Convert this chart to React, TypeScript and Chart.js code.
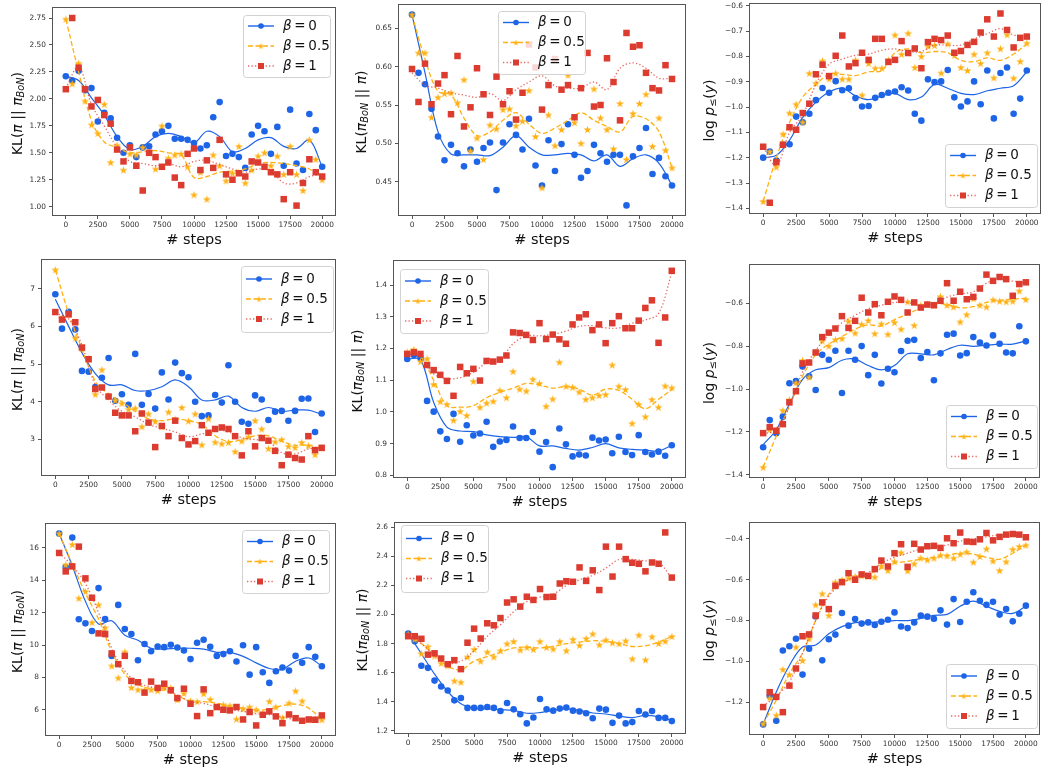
import React, { useEffect, useRef } from "react";
import { Chart, registerables } from "chart.js";
Chart.register(...registerables);

// ---------------- data ----------------
const STEPS = [0, 500, 1000, 1500, 2000, 2500, 3000, 3500, 4000, 4500, 5000, 5500, 6000, 6500, 7000, 7500, 8000, 8500, 9000, 9500, 10000, 10500, 11000, 11500, 12000, 12500, 13000, 13500, 14000, 14500, 15000, 15500, 16000, 16500, 17000, 17500, 18000, 18500, 19000, 19500, 20000];
const LINE_STEPS = [0, 1000, 2000, 3000, 4000, 5000, 6000, 7000, 8000, 9000, 10000, 11000, 12000, 13000, 14000, 15000, 16000, 17000, 18000, 19000, 20000];
const X_TICKS = [0, 2500, 5000, 7500, 10000, 12500, 15000, 17500, 20000];
const LEGEND_LABELS = ["0", "0.5", "1"];

// Panel 1: KL(pi || pi_BoN), top-left
const p1Beta0 = [2.21, 2.17, 2.26, 2.08, 2.10, 1.79, 1.87, 1.82, 1.64, 1.50, 1.57, 1.46, 1.55, 1.56, 1.67, 1.70, 1.75, 1.63, 1.63, 1.62, 1.59, 1.54, 1.57, 1.83, 1.97, 1.47, 1.49, 1.46, 1.36, 1.67, 1.75, 1.70, 1.49, 1.74, 1.38, 1.90, 1.40, 1.34, 1.86, 1.71, 1.37];
const p1Beta05 = [2.74, 2.14, 2.33, 1.98, 1.76, 1.68, 1.95, 1.41, 1.57, 1.34, 1.49, 1.48, 1.55, 1.50, 1.35, 1.75, 1.45, 1.48, 1.49, 1.37, 1.11, 1.32, 1.07, 1.48, 1.38, 1.24, 1.31, 1.56, 1.22, 1.34, 1.47, 1.50, 1.38, 1.47, 1.30, 1.56, 1.30, 1.15, 1.62, 1.44, 1.25];
const p1Beta1 = [2.09, 2.75, 2.29, 2.09, 1.93, 1.99, 1.85, 1.77, 1.53, 1.42, 1.55, 1.38, 1.15, 1.50, 1.46, 1.37, 1.41, 1.27, 1.20, 1.49, 1.54, 1.34, 1.43, 1.36, 1.62, 1.30, 1.25, 1.31, 1.28, 1.42, 1.41, 1.37, 1.32, 1.30, 1.07, 1.32, 1.01, 1.22, 1.44, 1.32, 1.28];
const p1Smooth0 = [2.21, 2.17, 2.01, 1.85, 1.65, 1.53, 1.56, 1.65, 1.68, 1.65, 1.59, 1.70, 1.65, 1.51, 1.54, 1.62, 1.64, 1.56, 1.54, 1.62, 1.37];
const p1Smooth05 = [2.74, 2.25, 1.80, 1.60, 1.55, 1.50, 1.51, 1.52, 1.50, 1.48, 1.27, 1.28, 1.32, 1.33, 1.35, 1.40, 1.41, 1.40, 1.38, 1.35, 1.26];
const p1Smooth1 = [2.10, 2.30, 1.95, 1.75, 1.55, 1.42, 1.40, 1.38, 1.40, 1.37, 1.42, 1.43, 1.39, 1.35, 1.32, 1.35, 1.33, 1.22, 1.22, 1.28, 1.30];

// Panel 2: KL(pi_BoN || pi)
const p2Beta0 = [0.668, 0.592, 0.577, 0.545, 0.509, 0.478, 0.498, 0.487, 0.470, 0.492, 0.476, 0.494, 0.501, 0.439, 0.501, 0.525, 0.511, 0.492, 0.532, 0.471, 0.445, 0.504, 0.464, 0.499, 0.525, 0.485, 0.455, 0.464, 0.498, 0.487, 0.476, 0.485, 0.485, 0.419, 0.483, 0.494, 0.520, 0.460, 0.481, 0.457, 0.445];
const p2Beta05 = [0.668, 0.618, 0.618, 0.534, 0.560, 0.565, 0.566, 0.553, 0.583, 0.490, 0.507, 0.479, 0.524, 0.519, 0.544, 0.545, 0.523, 0.529, 0.569, 0.509, 0.442, 0.537, 0.497, 0.518, 0.589, 0.527, 0.500, 0.518, 0.571, 0.533, 0.518, 0.493, 0.552, 0.479, 0.539, 0.552, 0.564, 0.496, 0.533, 0.491, 0.468];
const p2Beta1 = [0.597, 0.554, 0.604, 0.551, 0.578, 0.589, 0.538, 0.614, 0.522, 0.547, 0.598, 0.564, 0.537, 0.587, 0.551, 0.568, 0.531, 0.566, 0.629, 0.599, 0.544, 0.576, 0.610, 0.570, 0.576, 0.534, 0.572, 0.618, 0.548, 0.550, 0.611, 0.580, 0.530, 0.644, 0.626, 0.628, 0.592, 0.572, 0.569, 0.602, 0.584];
const p2Smooth0 = [0.668, 0.592, 0.515, 0.486, 0.485, 0.485, 0.484, 0.495, 0.510, 0.495, 0.485, 0.485, 0.487, 0.485, 0.477, 0.485, 0.470, 0.480, 0.485, 0.474, 0.445];
const p2Smooth05 = [0.668, 0.610, 0.568, 0.563, 0.533, 0.510, 0.515, 0.530, 0.540, 0.525, 0.513, 0.520, 0.530, 0.540, 0.530, 0.522, 0.515, 0.535, 0.532, 0.515, 0.468];
const p2Smooth1 = [0.592, 0.576, 0.572, 0.566, 0.563, 0.560, 0.565, 0.556, 0.570, 0.580, 0.588, 0.575, 0.572, 0.572, 0.580, 0.570, 0.598, 0.605, 0.598, 0.585, 0.585];

// Panel 3: log p(y)
const p3Beta0 = [-1.199, -1.175, -1.210, -1.148, -1.146, -1.037, -1.059, -1.026, -0.972, -0.924, -0.943, -0.897, -0.933, -0.925, -0.964, -0.997, -0.995, -0.963, -0.952, -0.943, -0.938, -0.921, -0.934, -1.026, -1.053, -0.890, -0.901, -0.898, -0.853, -0.961, -0.997, -0.977, -0.898, -0.988, -0.855, -1.044, -0.865, -0.843, -1.026, -0.966, -0.855];
const p3Beta05 = [-1.372, -1.175, -1.236, -1.106, -1.023, -0.988, -1.059, -0.866, -0.905, -0.817, -0.888, -0.866, -0.889, -0.889, -0.814, -0.952, -0.827, -0.846, -0.846, -0.814, -0.715, -0.791, -0.708, -0.843, -0.799, -0.760, -0.756, -0.865, -0.750, -0.795, -0.843, -0.855, -0.791, -0.827, -0.785, -0.884, -0.769, -0.714, -0.885, -0.819, -0.747];
const p3Beta1 = [-1.156, -1.377, -1.217, -1.148, -1.079, -1.089, -1.023, -0.986, -0.870, -0.832, -0.877, -0.797, -0.717, -0.839, -0.826, -0.785, -0.813, -0.730, -0.730, -0.821, -0.813, -0.739, -0.786, -0.768, -0.846, -0.743, -0.730, -0.735, -0.717, -0.785, -0.778, -0.754, -0.742, -0.705, -0.653, -0.721, -0.630, -0.695, -0.764, -0.726, -0.721];
const p3Smooth0 = [-1.199, -1.19, -1.13, -1.04, -0.98, -0.94, -0.925, -0.955, -0.970, -0.955, -0.945, -0.970, -0.960, -0.910, -0.925, -0.945, -0.950, -0.935, -0.925, -0.915, -0.86];
const p3Smooth05 = [-1.372, -1.20, -1.06, -0.96, -0.91, -0.87, -0.87, -0.875, -0.86, -0.855, -0.785, -0.77, -0.785, -0.78, -0.785, -0.815, -0.82, -0.805, -0.815, -0.79, -0.75];
const p3Smooth1 = [-1.16, -1.23, -1.10, -1.03, -0.91, -0.83, -0.81, -0.795, -0.79, -0.775, -0.77, -0.78, -0.78, -0.755, -0.755, -0.755, -0.73, -0.71, -0.69, -0.715, -0.72];

// Panel 4
const p4Beta0 = [6.85, 5.94, 6.39, 5.92, 4.82, 4.80, 4.39, 4.64, 5.16, 4.03, 4.20, 3.92, 5.27, 3.92, 4.21, 3.82, 4.78, 4.06, 5.04, 4.76, 4.65, 4.00, 3.62, 3.64, 4.18, 3.98, 4.97, 4.00, 3.47, 3.42, 4.17, 4.06, 3.52, 3.74, 3.76, 3.50, 3.76, 4.08, 4.09, 3.20, 3.69];
const p4Beta05 = [7.50, 6.23, 6.33, 5.69, 5.41, 5.14, 4.20, 4.85, 4.16, 4.04, 3.96, 3.80, 3.83, 3.34, 3.68, 3.48, 3.34, 3.73, 3.54, 3.85, 3.49, 3.68, 2.86, 3.55, 2.93, 2.89, 2.92, 2.68, 2.96, 3.07, 3.50, 3.28, 2.76, 2.94, 3.00, 2.82, 2.79, 2.92, 2.84, 2.60, 2.78];
const p4Beta1 = [6.38, 6.18, 6.32, 6.11, 5.44, 5.13, 4.34, 4.38, 4.14, 3.71, 3.64, 3.64, 3.22, 3.69, 3.45, 2.80, 3.36, 3.09, 3.50, 3.04, 2.87, 2.96, 3.38, 3.18, 3.28, 3.32, 3.28, 3.09, 2.58, 3.22, 2.82, 3.04, 2.97, 2.70, 2.32, 2.60, 2.51, 2.47, 3.09, 2.72, 2.78];
const p4Smooth0 = [6.72, 6.0, 5.3, 4.75, 4.45, 4.45, 4.30, 4.30, 4.40, 4.58, 4.40, 4.05, 4.05, 4.15, 3.85, 3.75, 3.85, 3.75, 3.78, 3.78, 3.67];
const p4Smooth05 = [7.50, 6.35, 5.40, 4.55, 4.20, 4.00, 3.75, 3.55, 3.50, 3.55, 3.50, 3.40, 3.10, 2.95, 3.00, 3.10, 3.10, 2.95, 2.85, 2.85, 2.75];
const p4Smooth1 = [6.35, 6.20, 5.50, 4.45, 4.05, 3.75, 3.60, 3.40, 3.30, 3.20, 3.08, 3.15, 3.25, 3.20, 3.05, 3.00, 2.95, 2.65, 2.62, 2.75, 2.78];

// Panel 5
const p5Beta0 = [1.167, 1.180, 1.170, 1.035, 1.001, 0.939, 0.915, 0.994, 0.906, 0.958, 0.926, 0.932, 0.969, 0.890, 0.907, 0.912, 0.954, 0.918, 0.918, 0.937, 0.875, 0.905, 0.826, 0.948, 0.898, 0.860, 0.866, 0.863, 0.919, 0.910, 0.913, 0.870, 0.922, 0.874, 0.864, 0.927, 0.874, 0.866, 0.875, 0.862, 0.895];
const p5Beta05 = [1.189, 1.197, 1.159, 1.168, 1.087, 1.033, 1.024, 0.974, 1.002, 0.989, 1.097, 1.015, 1.028, 1.034, 1.068, 1.045, 1.128, 1.072, 1.066, 1.103, 1.090, 1.018, 1.041, 1.157, 1.081, 1.078, 1.063, 1.040, 1.045, 1.052, 1.055, 1.148, 1.081, 1.071, 0.964, 1.024, 0.985, 1.039, 1.015, 1.082, 1.076];
const p5Beta1 = [1.183, 1.188, 1.183, 1.148, 1.132, 1.117, 1.098, 1.051, 1.142, 1.122, 1.136, 1.099, 1.161, 1.159, 1.165, 1.178, 1.251, 1.249, 1.243, 1.227, 1.280, 1.230, 1.244, 1.229, 1.215, 1.276, 1.298, 1.308, 1.258, 1.276, 1.217, 1.280, 1.302, 1.264, 1.264, 1.288, 1.328, 1.352, 1.218, 1.298, 1.445];
const p5Smooth0 = [1.167, 1.165, 1.03, 0.952, 0.940, 0.938, 0.928, 0.922, 0.920, 0.922, 0.893, 0.893, 0.885, 0.880, 0.888, 0.900, 0.887, 0.882, 0.880, 0.877, 0.895];
const p5Smooth05 = [1.19, 1.175, 1.10, 1.02, 1.015, 1.020, 1.045, 1.062, 1.075, 1.090, 1.085, 1.075, 1.080, 1.072, 1.053, 1.072, 1.068, 1.040, 1.010, 1.040, 1.070];
const p5Smooth1 = [1.18, 1.175, 1.12, 1.105, 1.108, 1.125, 1.155, 1.165, 1.215, 1.240, 1.240, 1.245, 1.255, 1.270, 1.272, 1.265, 1.265, 1.280, 1.290, 1.310, 1.440];

// Panel 6
const p6Beta0 = [-1.272, -1.145, -1.206, -1.129, -0.973, -0.963, -0.894, -0.940, -1.004, -0.840, -0.863, -0.821, -1.018, -0.821, -0.863, -0.799, -0.935, -0.840, -0.974, -0.905, -0.921, -0.822, -0.774, -0.770, -0.855, -0.827, -0.959, -0.833, -0.746, -0.741, -0.843, -0.832, -0.757, -0.783, -0.796, -0.749, -0.788, -0.829, -0.833, -0.706, -0.777];
const p6Beta05 = [-1.366, -1.190, -1.190, -1.100, -1.050, -0.971, -0.866, -0.944, -0.830, -0.775, -0.799, -0.769, -0.764, -0.683, -0.738, -0.697, -0.680, -0.741, -0.695, -0.744, -0.689, -0.720, -0.592, -0.702, -0.608, -0.603, -0.608, -0.567, -0.608, -0.616, -0.686, -0.652, -0.577, -0.608, -0.616, -0.583, -0.589, -0.592, -0.589, -0.541, -0.581];
const p6Beta1 = [-1.206, -1.178, -1.195, -1.164, -1.062, -1.010, -0.880, -0.876, -0.829, -0.757, -0.736, -0.717, -0.659, -0.714, -0.681, -0.573, -0.642, -0.603, -0.655, -0.592, -0.567, -0.583, -0.642, -0.595, -0.619, -0.605, -0.608, -0.587, -0.505, -0.587, -0.545, -0.580, -0.569, -0.530, -0.465, -0.494, -0.476, -0.486, -0.564, -0.509, -0.501];
const p6Smooth0 = [-1.26, -1.19, -1.07, -0.955, -0.91, -0.90, -0.865, -0.86, -0.89, -0.91, -0.89, -0.835, -0.835, -0.84, -0.815, -0.795, -0.800, -0.795, -0.790, -0.790, -0.775];
const p6Smooth05 = [-1.366, -1.22, -1.08, -0.94, -0.84, -0.79, -0.755, -0.72, -0.700, -0.705, -0.675, -0.650, -0.620, -0.600, -0.605, -0.620, -0.615, -0.595, -0.585, -0.580, -0.575];
const p6Smooth1 = [-1.21, -1.19, -1.08, -0.92, -0.82, -0.745, -0.690, -0.655, -0.625, -0.608, -0.595, -0.595, -0.610, -0.600, -0.570, -0.555, -0.545, -0.505, -0.480, -0.495, -0.505];

// Panel 7
const p7Beta0 = [16.89, 14.82, 16.64, 11.59, 11.34, 10.87, 13.52, 11.61, 9.33, 12.48, 10.99, 10.68, 9.06, 10.06, 9.62, 9.91, 9.87, 10.02, 9.85, 9.66, 9.13, 10.14, 10.33, 9.89, 9.33, 9.44, 9.62, 8.98, 9.99, 8.17, 9.87, 8.32, 7.66, 8.38, 8.61, 8.42, 9.33, 8.90, 9.87, 9.27, 8.69];
const p7Beta05 = [16.89, 14.96, 16.21, 12.89, 13.31, 11.40, 12.48, 11.07, 8.71, 7.97, 9.58, 7.37, 7.24, 7.22, 7.24, 7.18, 7.37, 7.35, 6.62, 7.01, 6.54, 6.50, 6.99, 6.64, 6.17, 6.31, 6.25, 5.42, 6.06, 6.17, 6.00, 5.75, 6.52, 6.17, 5.50, 6.41, 7.16, 6.54, 5.38, 5.44, 5.38];
const p7Beta1 = [15.69, 14.55, 14.86, 16.08, 14.12, 12.92, 10.72, 10.68, 9.48, 8.82, 9.33, 7.78, 7.70, 7.06, 7.74, 7.35, 7.61, 7.20, 6.72, 7.30, 6.37, 5.61, 7.26, 5.79, 6.17, 6.00, 5.96, 6.17, 5.40, 5.86, 5.03, 5.69, 5.90, 5.59, 5.17, 5.71, 5.48, 5.32, 5.40, 5.38, 5.65];
const p7Smooth0 = [16.89, 14.9, 12.7, 11.3, 11.5, 10.6, 10.3, 9.8, 9.75, 9.80, 9.80, 9.75, 9.55, 9.55, 9.30, 8.90, 8.55, 8.50, 9.00, 9.20, 8.70];
const p7Smooth05 = [16.89, 15.0, 13.2, 11.6, 9.6, 8.2, 7.55, 7.30, 7.20, 6.85, 6.55, 6.50, 6.40, 6.20, 6.10, 5.95, 6.05, 6.25, 6.35, 6.10, 5.40];
const p7Smooth1 = [15.7, 14.9, 13.8, 12.0, 9.8, 8.4, 7.70, 7.40, 7.30, 6.90, 6.50, 6.40, 6.15, 6.00, 5.90, 5.75, 5.70, 5.55, 5.40, 5.38, 5.55];

// Panel 8
const p8Beta0 = [1.869, 1.817, 1.647, 1.633, 1.545, 1.504, 1.477, 1.409, 1.425, 1.357, 1.357, 1.357, 1.363, 1.357, 1.336, 1.391, 1.347, 1.313, 1.250, 1.291, 1.418, 1.347, 1.338, 1.352, 1.359, 1.338, 1.332, 1.320, 1.286, 1.352, 1.345, 1.254, 1.304, 1.250, 1.259, 1.336, 1.311, 1.336, 1.288, 1.288, 1.266];
const p8Beta05 = [1.865, 1.830, 1.731, 1.779, 1.715, 1.665, 1.647, 1.543, 1.534, 1.708, 1.760, 1.679, 1.742, 1.708, 1.751, 1.799, 1.815, 1.756, 1.774, 1.760, 1.815, 1.774, 1.763, 1.815, 1.751, 1.829, 1.788, 1.835, 1.867, 1.792, 1.824, 1.806, 1.799, 1.819, 1.695, 1.858, 1.688, 1.847, 1.801, 1.817, 1.849];
const p8Beta1 = [1.851, 1.851, 1.833, 1.724, 1.733, 1.697, 1.658, 1.686, 1.624, 1.806, 1.903, 1.835, 1.940, 1.926, 1.976, 2.083, 2.105, 2.055, 2.123, 2.101, 2.176, 2.121, 2.123, 2.214, 2.230, 2.226, 2.325, 2.232, 2.305, 2.169, 2.468, 2.262, 2.468, 2.382, 2.357, 2.350, 2.298, 2.359, 2.350, 2.566, 2.255];
const p8Smooth0 = [1.869, 1.73, 1.59, 1.47, 1.385, 1.355, 1.350, 1.345, 1.340, 1.320, 1.325, 1.340, 1.350, 1.340, 1.322, 1.315, 1.300, 1.290, 1.305, 1.295, 1.270];
const p8Smooth05 = [1.865, 1.80, 1.72, 1.645, 1.620, 1.680, 1.710, 1.740, 1.770, 1.775, 1.770, 1.780, 1.800, 1.810, 1.820, 1.815, 1.800, 1.780, 1.785, 1.810, 1.850];
const p8Smooth1 = [1.855, 1.80, 1.72, 1.665, 1.68, 1.75, 1.85, 1.93, 2.02, 2.09, 2.12, 2.14, 2.20, 2.24, 2.27, 2.32, 2.38, 2.38, 2.37, 2.36, 2.25];

// Panel 9
const p9Beta0 = [-1.309, -1.170, -1.291, -0.947, -0.926, -0.889, -1.065, -0.938, -0.780, -0.995, -0.892, -0.869, -0.763, -0.825, -0.793, -0.815, -0.809, -0.822, -0.806, -0.796, -0.760, -0.829, -0.837, -0.809, -0.776, -0.781, -0.791, -0.750, -0.820, -0.695, -0.807, -0.708, -0.661, -0.703, -0.723, -0.708, -0.771, -0.744, -0.804, -0.767, -0.727];
const p9Beta05 = [-1.306, -1.180, -1.264, -1.040, -1.065, -0.930, -0.996, -0.890, -0.723, -0.669, -0.775, -0.612, -0.600, -0.592, -0.584, -0.581, -0.584, -0.587, -0.532, -0.555, -0.511, -0.467, -0.556, -0.522, -0.494, -0.503, -0.494, -0.480, -0.483, -0.494, -0.475, -0.464, -0.514, -0.486, -0.449, -0.508, -0.555, -0.512, -0.451, -0.437, -0.431];
const p9Beta1 = [-1.224, -1.151, -1.174, -1.249, -1.119, -1.035, -0.877, -0.868, -0.775, -0.711, -0.744, -0.630, -0.612, -0.568, -0.600, -0.574, -0.581, -0.548, -0.506, -0.535, -0.470, -0.426, -0.537, -0.424, -0.452, -0.436, -0.434, -0.444, -0.397, -0.421, -0.369, -0.413, -0.415, -0.402, -0.371, -0.407, -0.390, -0.379, -0.376, -0.379, -0.392];
const p9Smooth0 = [-1.309, -1.15, -1.02, -0.93, -0.92, -0.865, -0.83, -0.81, -0.81, -0.805, -0.80, -0.80, -0.79, -0.775, -0.77, -0.730, -0.705, -0.73, -0.755, -0.765, -0.73];
const p9Smooth05 = [-1.306, -1.19, -1.06, -0.96, -0.80, -0.67, -0.615, -0.59, -0.575, -0.545, -0.52, -0.51, -0.50, -0.49, -0.48, -0.47, -0.475, -0.49, -0.50, -0.47, -0.43];
const p9Smooth1 = [-1.22, -1.17, -1.10, -0.96, -0.80, -0.68, -0.62, -0.585, -0.565, -0.52, -0.49, -0.47, -0.45, -0.44, -0.43, -0.41, -0.40, -0.39, -0.38, -0.38, -0.39];

// y tick values
const TICKS_P1 = [1.0, 1.25, 1.5, 1.75, 2.0, 2.25, 2.5, 2.75];
const TICKS_P2 = [0.45, 0.5, 0.55, 0.6, 0.65];
const TICKS_P3 = [-1.4, -1.3, -1.2, -1.1, -1.0, -0.9, -0.8, -0.7, -0.6];
const TICKS_P4 = [3, 4, 5, 6, 7];
const TICKS_P5 = [0.8, 0.9, 1.0, 1.1, 1.2, 1.3, 1.4];
const TICKS_P6 = [-1.4, -1.2, -1.0, -0.8, -0.6];
const TICKS_P7 = [6, 8, 10, 12, 14, 16];
const TICKS_P8 = [1.2, 1.4, 1.6, 1.8, 2.0, 2.2, 2.4, 2.6];
const TICKS_P9 = [-1.2, -1.0, -0.8, -0.6, -0.4];

// ---------------- styling ----------------
const FONT = '"DejaVu Sans", sans-serif';
const BLUE = "#1d64e6";
const ORANGE = "#ffb012";
const RED = "#dc3b30";

type Seg = { t: string; it?: boolean; sub?: boolean };
const TITLE_KL1: Seg[] = [{ t: "KL(" }, { t: "π", it: true }, { t: " || " }, { t: "π", it: true }, { t: "BoN", it: true, sub: true }, { t: ")" }];
const TITLE_KL2: Seg[] = [{ t: "KL(" }, { t: "π", it: true }, { t: "BoN", it: true, sub: true }, { t: " || " }, { t: "π", it: true }, { t: ")" }];
const TITLE_LOG: Seg[] = [{ t: "log " }, { t: "p", it: true }, { t: "≤", sub: true }, { t: "(" }, { t: "y", it: true }, { t: ")" }];

interface PanelCfg {
  box: number[];
  area: number[];
  yMin: number; yMax: number; yTicks: number[]; dec: number;
  title: Seg[]; titleX: number;
  legend: number[];
  pts: number[][]; lines: number[][];
}

const COLS = [[0, 347], [347, 347], [694, 348]];
const ROWS = [[0, 255], [255, 255], [510, 262]];
function box(c: number, r: number) {
  return [COLS[c][0], ROWS[r][0] - 12, COLS[c][1] + 14, ROWS[r][1] + 12];
}

const PANELS: PanelCfg[] = [
  { box: box(0, 0), area: [53, 8, 335, 215], yMin: 0.923, yMax: 2.843, yTicks: TICKS_P1, dec: 2, title: TITLE_KL1, titleX: 18, legend: [243, 15, 87, 62], pts: [p1Beta0, p1Beta05, p1Beta1], lines: [p1Smooth0, p1Smooth05, p1Smooth1] },
  { box: box(1, 0), area: [399, 5, 685, 215], yMin: 0.4065, yMax: 0.6805, yTicks: TICKS_P2, dec: 2, title: TITLE_KL2, titleX: 362, legend: [498, 11, 87, 63], pts: [p2Beta0, p2Beta05, p2Beta1], lines: [p2Smooth0, p2Smooth05, p2Smooth1] },
  { box: box(2, 0), area: [750, 4, 1040, 213], yMin: -1.4175, yMax: -0.5925, yTicks: TICKS_P3, dec: 1, title: TITLE_LOG, titleX: 710, legend: [945, 144, 92, 63], pts: [p3Beta0, p3Beta05, p3Beta1], lines: [p3Smooth0, p3Smooth05, p3Smooth1] },
  { box: box(0, 1), area: [42, 260, 335, 475], yMin: 2.06, yMax: 7.76, yTicks: TICKS_P4, dec: 0, title: TITLE_KL1, titleX: 18, legend: [241, 266, 92, 66], pts: [p4Beta0, p4Beta05, p4Beta1], lines: [p4Smooth0, p4Smooth05, p4Smooth1] },
  { box: box(1, 1), area: [394, 261, 685, 477], yMin: 0.795, yMax: 1.476, yTicks: TICKS_P5, dec: 1, title: TITLE_KL2, titleX: 358, legend: [400, 269, 88, 64], pts: [p5Beta0, p5Beta05, p5Beta1], lines: [p5Smooth0, p5Smooth05, p5Smooth1] },
  { box: box(2, 1), area: [750, 265, 1039, 477], yMin: -1.411, yMax: -0.42, yTicks: TICKS_P6, dec: 1, title: TITLE_LOG, titleX: 710, legend: [946, 405, 91, 63], pts: [p6Beta0, p6Beta05, p6Beta1], lines: [p6Smooth0, p6Smooth05, p6Smooth1] },
  { box: box(0, 2), area: [46, 524, 335, 735], yMin: 4.44, yMax: 17.48, yTicks: TICKS_P7, dec: 0, title: TITLE_KL1, titleX: 18, legend: [242, 530, 87, 63], pts: [p7Beta0, p7Beta05, p7Beta1], lines: [p7Smooth0, p7Smooth05, p7Smooth1] },
  { box: box(1, 2), area: [395, 523, 685, 733], yMin: 1.184, yMax: 2.631, yTicks: TICKS_P8, dec: 1, title: TITLE_KL2, titleX: 363, legend: [401, 525, 87, 67], pts: [p8Beta0, p8Beta05, p8Beta1], lines: [p8Smooth0, p8Smooth05, p8Smooth1] },
  { box: box(2, 2), area: [750, 523, 1039, 734], yMin: -1.356, yMax: -0.322, yTicks: TICKS_P9, dec: 1, title: TITLE_LOG, titleX: 710, legend: [946, 664, 91, 64], pts: [p9Beta0, p9Beta05, p9Beta1], lines: [p9Smooth0, p9Smooth05, p9Smooth1] },
];

const STYLES = [
  { color: BLUE, line: BLUE, dash: [] as number[], lw: 1.2 },
  { color: ORANGE, line: ORANGE, dash: [5, 2.5], lw: 1.3 },
  { color: RED, line: "rgba(226,80,70,0.85)", dash: [1.3, 2.2], lw: 1.3 },
];

function makeStar(outer: number, color: string) {
  const c = document.createElement("canvas");
  const s = Math.ceil(outer * 2 + 2);
  c.width = s; c.height = s;
  const ctx = c.getContext("2d")!;
  const cx = s / 2, cy = s / 2 + outer * 0.1;
  ctx.beginPath();
  for (let i = 0; i < 10; i++) {
    const r = i % 2 === 0 ? outer : outer * 0.382;
    const a = -Math.PI / 2 + (i * Math.PI) / 5;
    ctx.lineTo(cx + r * Math.cos(a), cy + r * Math.sin(a));
  }
  ctx.closePath();
  ctx.fillStyle = color;
  ctx.fill();
  return c;
}

function segFont(s: Seg, size: number) {
  return `${s.it ? "italic " : ""}${s.sub ? size * 0.7 : size}px ${FONT}`;
}
function drawRich(ctx: CanvasRenderingContext2D, segs: Seg[], x: number, y: number, size: number, align: "left" | "center") {
  let total = 0;
  for (const s of segs) { ctx.font = segFont(s, size); total += ctx.measureText(s.t).width; }
  let cx = align === "center" ? x - total / 2 : x;
  ctx.textAlign = "left";
  ctx.textBaseline = "middle";
  for (const s of segs) {
    ctx.font = segFont(s, size);
    ctx.fillText(s.t, cx, y + (s.sub ? size * 0.28 : 0));
    cx += ctx.measureText(s.t).width;
  }
}

function fmtTick(v: number, d: number) {
  const s = Math.abs(v).toFixed(d);
  return v < -1e-9 ? "\u2212" + s : s;
}

function buildChart(canvas: HTMLCanvasElement, p: PanelCfg, starBig: HTMLCanvasElement, starSmall: HTMLCanvasElement) {
  const [bx, by, bw, bh] = p.box;
  const [L, T, R, B] = p.area;
  const datasets: any[] = [];
  for (let s = 2; s >= 0; s--) {
    const st = STYLES[s];
    datasets.push({
      data: STEPS.map((x, i) => ({ x, y: p.pts[s][i] })),
      showLine: false,
      pointStyle: s === 0 ? "circle" : s === 1 ? starBig : "rect",
      pointRadius: s === 0 ? 3.3 : s === 1 ? 4 : 4.6,
      pointBackgroundColor: st.color,
      pointBorderColor: st.color,
      pointBorderWidth: 0,
      borderColor: st.color,
    });
    datasets.push({
      data: LINE_STEPS.map((x, i) => ({ x, y: p.lines[s][i] })),
      borderColor: st.line,
      borderWidth: st.lw,
      borderDash: st.dash,
      pointRadius: 0,
      tension: 0.35,
      fill: false,
    });
  }

  const deco = {
    id: "deco",
    afterDraw(chart: any) {
      const ctx: CanvasRenderingContext2D = chart.ctx;
      const a = chart.chartArea;
      ctx.save();
      ctx.strokeStyle = "#555";
      ctx.lineWidth = 1;
      ctx.strokeRect(a.left - 0.5, a.top - 0.5, a.right - a.left + 1, a.bottom - a.top + 1);
      ctx.fillStyle = "#111";
      ctx.font = `14.5px ${FONT}`;
      ctx.textAlign = "center";
      ctx.textBaseline = "middle";
      ctx.fillText("# steps", (a.left + a.right) / 2, a.bottom + 25);
      ctx.save();
      ctx.translate(p.titleX - bx, (a.top + a.bottom) / 2 + 2);
      ctx.rotate(-Math.PI / 2);
      drawRich(ctx, p.title, 0, 0, 14, "center");
      ctx.restore();
      // legend
      const [lx0, ly0, lw, lh] = p.legend;
      const lx = lx0 - bx, ly = ly0 - by;
      ctx.beginPath();
      (ctx as any).roundRect(lx + 0.5, ly + 0.5, lw, lh, 3);
      ctx.fillStyle = "rgba(255,255,255,0.8)";
      ctx.fill();
      ctx.strokeStyle = "#d2d2d2";
      ctx.lineWidth = 1;
      ctx.stroke();
      for (let s = 0; s < 3; s++) {
        const st = STYLES[s];
        const ry = ly + lh / 2 + (s - 1) * 20;
        ctx.beginPath();
        ctx.setLineDash(st.dash);
        ctx.strokeStyle = st.line;
        ctx.lineWidth = st.lw + 0.2;
        ctx.moveTo(lx + 5, ry);
        ctx.lineTo(lx + 31, ry);
        ctx.stroke();
        ctx.setLineDash([]);
        const mx = lx + 18;
        ctx.fillStyle = st.color;
        if (s === 0) { ctx.beginPath(); ctx.arc(mx, ry, 2.8, 0, Math.PI * 2); ctx.fill(); }
        else if (s === 1) { ctx.drawImage(starSmall, mx - starSmall.width / 2, ry - starSmall.height / 2); }
        else { ctx.fillRect(mx - 3, ry - 3, 6, 6); }
        ctx.fillStyle = "#111";
        drawRich(ctx, [{ t: "β", it: true }, { t: "\u2009=\u2009" + LEGEND_LABELS[s] }], lx + 40, ry, 13.5, "left");
      }
      ctx.restore();
    },
  };

  return new Chart(canvas, {
    type: "line",
    data: { datasets },
    options: {
      animation: false,
      responsive: false,
      maintainAspectRatio: false,
      events: [],
      layout: { padding: { left: 0, top: T - by, right: bx + bw - R, bottom: 0 } },
      plugins: { legend: { display: false }, tooltip: { enabled: false } },
      scales: {
        x: {
          type: "linear",
          min: -1000,
          max: 21000,
          afterBuildTicks: (s: any) => { s.ticks = X_TICKS.map((v) => ({ value: v })); },
          afterFit: (s: any) => { s.height = by + bh - B; },
          grid: { display: true, drawOnChartArea: false, drawTicks: true, tickLength: 4, color: "#555" },
          border: { display: false },
          ticks: { font: { family: FONT, size: 7.4 }, color: "#333", padding: 2, maxRotation: 0, autoSkip: false, callback: (v: any) => String(v) },
        },
        y: {
          type: "linear",
          min: p.yMin,
          max: p.yMax,
          afterBuildTicks: (s: any) => { s.ticks = p.yTicks.map((v) => ({ value: v })); },
          afterFit: (s: any) => { s.width = L - bx; },
          grid: { display: true, drawOnChartArea: false, drawTicks: true, tickLength: 4, color: "#555" },
          border: { display: false },
          ticks: { font: { family: FONT, size: 7.4 }, color: "#333", padding: 3, autoSkip: false, callback: (v: any) => fmtTick(Number(v), p.dec) },
        },
      },
    } as any,
    plugins: [deco],
  });
}

export default function App() {
  const refs = useRef<(HTMLCanvasElement | null)[]>([]);
  useEffect(() => {
    const starBig = makeStar(4.2, ORANGE);
    const starSmall = makeStar(3.4, ORANGE);
    const charts = PANELS.map((p, i) => buildChart(refs.current[i]!, p, starBig, starSmall));
    return () => charts.forEach((c) => c.destroy());
  }, []);
  return (
    <div style={{ position: "absolute", left: 0, top: 0, width: 1042, height: 772, overflow: "hidden", background: "#fff" }}>
      {PANELS.map((p, i) => (
        <canvas
          key={i}
          ref={(el) => { refs.current[i] = el; }}
          width={p.box[2]}
          height={p.box[3]}
          style={{ position: "absolute", left: p.box[0], top: p.box[1], width: p.box[2], height: p.box[3] }}
        />
      ))}
    </div>
  );
}
